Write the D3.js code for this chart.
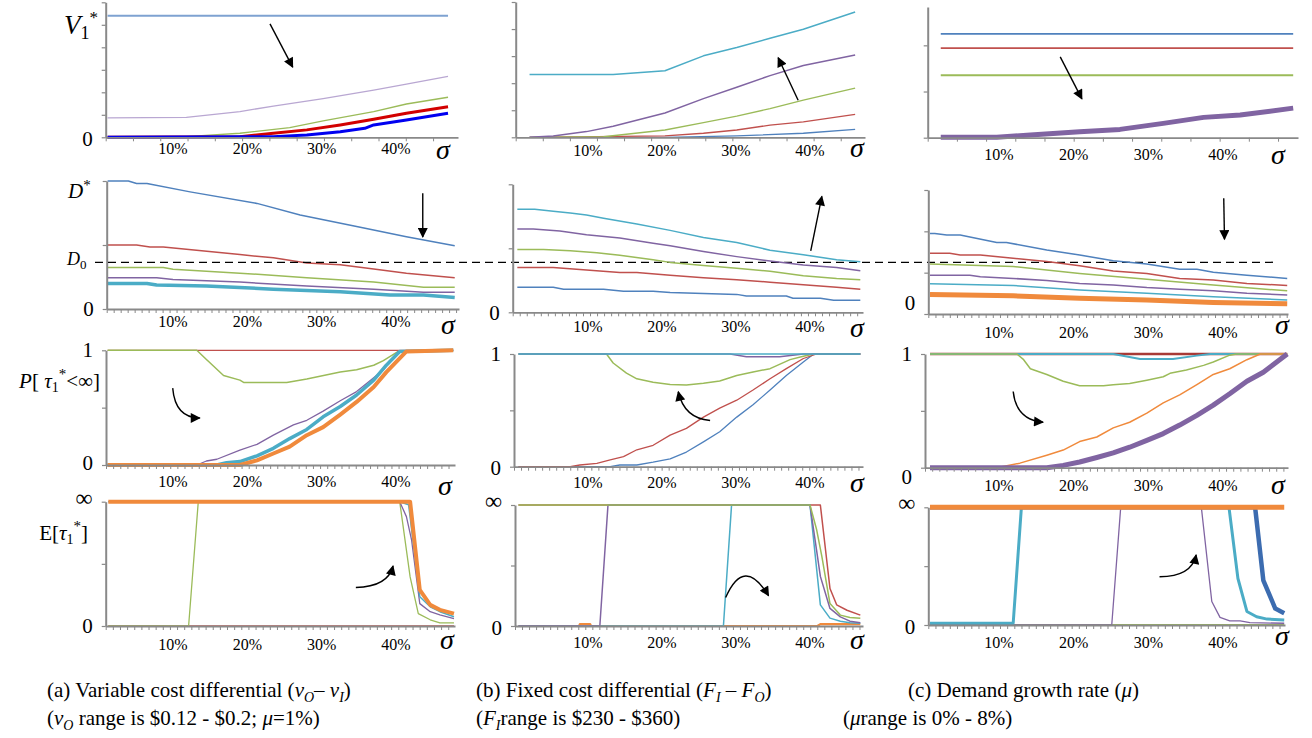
<!DOCTYPE html>
<html><head><meta charset="utf-8">
<script src="https://cdnjs.cloudflare.com/ajax/libs/d3/7.8.5/d3.min.js"></script>
<style>
body{margin:0;background:#fff}
svg{display:block}
text{font-family:"Liberation Serif","Times New Roman",serif;fill:#000}
</style>
</head><body>
<svg id="chart" width="1312" height="738"></svg>
<script>
// ---------- tick labels ----------
const xTickValues = [10, 20, 30, 40];
const xTickLabels = ["10%", "20%", "30%", "40%"];

// ---------- Row 1: V1* ----------
const a1LightBlue = [[1.2,5.4],[47,5.4]];
const a1Lavender = [[1.2,0.86],[11.8,0.89],[19,1.14],[23.5,1.39],[30.2,1.72],[37,2.1],[41.4,2.36],[47,2.71]];
const a1Green = [[1.2,0],[11.8,0.03],[19,0.18],[25.7,0.43],[30.2,0.73],[37,1.14],[41.4,1.48],[47,1.78]];
const a1Red = [[1.2,0],[19,0.03],[23.5,0.18],[28,0.33],[32.5,0.55],[37,0.8],[41.4,1.07],[47,1.36]];
const a1DeepBlue = [[1.2,0],[23.5,0.03],[28,0.1],[32.5,0.25],[35.8,0.4],[37,0.55],[41.4,0.77],[47,1.07]];

const b1Cyan = [[2.1,2.32],[13.4,2.32],[20.4,2.46],[25.6,3.01],[30.1,3.32],[34.6,3.66],[39.1,3.99],[46.1,4.63]];
const b1Purple = [[2.1,0],[5.3,0.05],[9.8,0.21],[13.4,0.41],[20.4,0.9],[25.6,1.43],[30.1,1.85],[34.6,2.28],[39.1,2.65],[46.1,3.04]];
const b1Green = [[2.1,0],[12.1,0.02],[20.4,0.27],[25.6,0.54],[30.1,0.78],[34.6,1.06],[39.1,1.37],[46.1,1.82]];
const b1Red = [[2.1,0],[20.4,0.05],[25.6,0.15],[30.1,0.27],[34.6,0.45],[39.1,0.57],[46.1,0.85]];
const b1Blue = [[2.1,0],[20.4,0],[30.1,0.05],[39.1,0.15],[46.1,0.29]];

const c1Blue = [[2.2,2.25],[49.4,2.25]];
const c1Red = [[2.2,1.94],[49.4,1.94]];
const c1Green = [[2.2,1.35],[49.4,1.35]];
const c1Purple = [[2.2,0.01],[9.7,0.01],[14.2,0.06],[20.8,0.13],[26.2,0.18],[32,0.31],[37.4,0.44],[42.3,0.49],[49.4,0.64]];

// ---------- Row 2: D* ----------
const D0 = 0.73;
const a2Blue = [[1.2,2],[4,2],[5.1,1.96],[6.5,1.96],[12.3,1.83],[21.3,1.65],[27.1,1.47],[34.7,1.29],[41.4,1.13],[47.9,0.99]];
const a2Red = [[1.2,1],[5.1,1],[6.9,0.97],[8.7,0.97],[19,0.85],[23.5,0.8],[28,0.72],[32.5,0.69],[37,0.625],[41.4,0.56],[47.9,0.49]];
const a2Green = [[1.2,0.65],[8.7,0.65],[10,0.62],[19,0.56],[28,0.49],[37,0.42],[43.7,0.34],[47.9,0.34]];
const a2Purple = [[1.2,0.49],[7.8,0.49],[10,0.46],[19,0.42],[28,0.36],[37,0.31],[43.7,0.26],[47.9,0.26]];
const a2Cyan = [[1.2,0.4],[6.5,0.4],[7.8,0.375],[14.5,0.36],[23.5,0.31],[32.5,0.27],[39.2,0.22],[43.7,0.22],[47.9,0.18]];

const b2Cyan = [[0.45,1.61],[2.8,1.61],[5.3,1.58],[7.6,1.55],[9.8,1.52],[12.1,1.47],[16.6,1.38],[21.1,1.28],[25.6,1.17],[30.1,1.09],[34.6,0.97],[39.1,0.9],[43.6,0.82],[46.8,0.79]];
const b2Purple = [[0.45,1.3],[2.6,1.3],[6.2,1.27],[9.8,1.21],[14.3,1.16],[18.8,1.08],[21.1,1.04],[25.6,0.95],[30.1,0.87],[34.6,0.8],[39.1,0.74],[43.6,0.7],[46.8,0.65]];
const b2Green = [[0.45,0.98],[4,0.98],[7.6,0.96],[11.2,0.93],[14.3,0.89],[18.8,0.82],[21.1,0.78],[25.6,0.73],[30.1,0.69],[34.6,0.64],[39.1,0.57],[43.6,0.53],[46.8,0.51]];
const b2Red = [[0.45,0.7],[5.3,0.7],[8.9,0.67],[14.3,0.62],[16.6,0.62],[21.1,0.58],[25.6,0.54],[30.1,0.51],[34.6,0.47],[39.1,0.43],[43.6,0.39],[46.8,0.36]];
const b2Blue = [[0.45,0.39],[5.3,0.39],[6.7,0.36],[12.1,0.36],[14.8,0.33],[18.8,0.33],[21.1,0.31],[30.1,0.28],[31.4,0.255],[36.8,0.255],[37.7,0.22],[41.4,0.22],[43.2,0.19],[46.8,0.19]];

const c2Blue = [[0.76,1.95],[1.4,1.95],[3,1.91],[4.8,1.91],[9.7,1.73],[11,1.73],[16.4,1.55],[20.8,1.43],[25.3,1.29],[29.8,1.21],[34.2,1.08],[36.5,1.08],[38.7,1.01],[43.2,0.94],[48.6,0.86]];
const c2Red = [[0.76,1.47],[3.4,1.47],[4.8,1.43],[7.5,1.43],[11.9,1.35],[16.4,1.27],[20.8,1.17],[25.3,1.04],[29.8,0.98],[34.2,0.86],[38.7,0.82],[43.2,0.74],[48.6,0.69]];
const c2Green = [[0.76,1.21],[11.9,1.15],[20.8,0.98],[29.8,0.84],[38.7,0.7],[48.6,0.56]];
const c2Purple = [[0.76,0.94],[6.1,0.94],[7.5,0.9],[11.9,0.86],[16.4,0.81],[20.8,0.74],[25.3,0.7],[29.8,0.64],[34.2,0.6],[38.7,0.56],[43.2,0.5],[48.6,0.46]];
const c2Cyan = [[0.76,0.73],[11.9,0.69],[20.8,0.58],[29.8,0.5],[38.7,0.42],[48.6,0.34]];
const c2Orange = [[0.76,0.47],[11.9,0.44],[20.8,0.38],[29.8,0.34],[38.7,0.28],[48.6,0.25]];

// ---------- Row 3: P[tau1* < inf] ----------
const a3Red = [[1.2,1],[47.7,1]];
const a3Green = [[1.2,1],[13.2,1],[14.5,0.92],[16.8,0.78],[19,0.74],[19.5,0.72],[25.3,0.72],[28,0.75],[32.5,0.81],[34.7,0.83],[37,0.87],[38.3,0.91],[40.3,0.99],[47.7,1]];
const a3Purple = [[1.2,0],[13.2,0],[14.5,0.035],[15.9,0.05],[19,0.13],[21.3,0.18],[23.5,0.26],[26.2,0.35],[28,0.39],[30.2,0.47],[32.5,0.56],[34.7,0.64],[37,0.76],[38.3,0.83],[40.3,0.99],[47.7,1]];
const a3Cyan = [[1.2,0],[15.9,0],[17.2,0.02],[19,0.03],[21.3,0.08],[23.5,0.145],[25.7,0.23],[28,0.31],[30.2,0.42],[32.5,0.51],[34.7,0.61],[37,0.74],[38.7,0.87],[40.5,0.99],[47.7,1]];
const a3Orange = [[1.2,0],[19,0],[21.3,0.04],[23.5,0.1],[25.7,0.16],[28,0.26],[30.2,0.33],[32.5,0.44],[34.7,0.55],[37,0.68],[38.7,0.81],[41.4,0.99],[47.7,1]];

const b3Blue = [[0.6,0],[13,0],[14.3,0.015],[16.6,0.015],[18.8,0.04],[21.1,0.07],[23.3,0.13],[25.6,0.22],[27.8,0.31],[30.1,0.44],[32.3,0.55],[34.6,0.68],[36.8,0.81],[39.1,0.93],[40.5,1],[46.8,1]];
const b3Red = [[0.6,0],[7.6,0],[8.9,0.015],[11.2,0.03],[13,0.06],[14.8,0.09],[16.6,0.15],[18.8,0.19],[21.1,0.28],[23.3,0.34],[25.6,0.44],[27.8,0.52],[30.1,0.59],[32.3,0.68],[34.6,0.78],[36.8,0.87],[39.1,0.96],[40.9,1],[46.8,1]];
const b3Green = [[0.6,1],[12.5,1],[13.4,0.92],[15.2,0.83],[16.6,0.78],[18.8,0.75],[21.1,0.73],[23.3,0.725],[25.6,0.74],[27.8,0.76],[30.1,0.81],[32.3,0.84],[34.6,0.87],[37.3,0.95],[39.1,0.98],[40.5,1],[46.8,1]];
const b3Purple = [[0.6,1],[29.2,1],[31.4,0.976],[35.9,0.976],[39.1,1],[46.8,1]];
const b3Cyan = [[0.6,1],[46.8,1]];

const c3Red = [[0.76,1],[48.6,1]];
const c3Cyan = [[0.76,1],[25.3,1],[28.9,0.956],[33.3,0.956],[36.5,0.985],[38.3,1],[48.6,1]];
const c3Green = [[0.76,1],[12.4,1],[13.3,0.95],[14.2,0.87],[16.4,0.82],[18.6,0.76],[20.8,0.72],[24,0.72],[25.3,0.73],[27.5,0.74],[29.8,0.77],[32,0.8],[32.9,0.83],[35.1,0.86],[37.4,0.9],[38.7,0.93],[40.9,0.99],[41.8,1],[48.6,1]];
const c3Orange = [[0.76,0],[9.7,0],[12.8,0.04],[16.4,0.11],[18.6,0.155],[20.8,0.23],[23.1,0.27],[25.3,0.35],[27.5,0.4],[29.8,0.48],[32,0.57],[34.2,0.64],[36.5,0.73],[38.7,0.82],[40.9,0.87],[43.2,0.95],[45,1],[48.6,1]];
const c3Purple = [[0.76,0],[16.4,0],[18.6,0.02],[20.8,0.05],[23.1,0.09],[25.3,0.13],[27.5,0.18],[29.8,0.24],[32,0.3],[34.2,0.375],[36.5,0.46],[38.7,0.55],[40.9,0.65],[43.2,0.76],[45.4,0.84],[48.6,1]];

// ---------- Row 4: E[tau1*]  (2 = infinity) ----------
const a4Red = [[1.3,0],[47.8,0]];
const a4Green = [[1.3,0],[12.1,0],[13.4,2],[40.5,2],[41.9,0.79],[43,0.2],[44.6,0.1],[45.9,0.05],[47.8,0.05]];
const a4Purple = [[1.3,2],[40.5,2],[41.4,1.76],[42.1,1.38],[43.2,0.36],[44.6,0.23],[45.9,0.18],[47.8,0.12]];
const a4Cyan = [[1.3,2],[40.5,2],[41.7,1.95],[43.2,0.47],[44.6,0.31],[45.9,0.23],[47.8,0.15]];
const a4Orange = [[1.3,2],[41.9,2],[43.2,0.58],[44.6,0.34],[45.9,0.26],[47.8,0.2]];

const b4Orange = [[0.6,0],[8.8,0],[8.9,0.03],[10.3,0.03],[10.4,0],[41,0],[41.4,0.03],[46.8,0.03]];
const b4Red = [[0.6,2],[41.4,2],[42.7,0.62],[43.6,0.35],[45,0.26],[46.8,0.18]];
const b4Cyan = [[0.6,0],[28.3,0],[29.4,2],[40,2],[41.4,0.35],[42.7,0.13],[44.1,0.08],[45.4,0.055],[46.8,0.044]];
const b4Purple = [[0.6,0],[11.6,0],[12.7,2],[40,2],[41.4,0.82],[42.7,0.29],[44.1,0.15],[45.4,0.08],[46.8,0.055]];
const b4Green = [[0.6,2],[40,2],[40.9,1.59],[41.6,1.15],[42.7,0.37],[44.1,0.18],[45.4,0.14],[46.8,0.13]];

const c4Green = [[0.76,0],[48.2,0]];
const c4Purple = [[0.76,0],[25.1,0],[26.3,2],[37.1,2],[38.5,0.4],[39.6,0.13],[40.9,0.07],[42.3,0.07],[43.6,0.04],[48.2,0.03]];
const c4Cyan = [[0.76,0.03],[11.9,0.03],[13,2],[40.8,2],[42,0.79],[43.2,0.23],[44.5,0.14],[45.9,0.1],[48.2,0.085]];
const c4Blue = [[0.76,2],[44.3,2],[45.4,0.76],[47,0.28],[48.2,0.2]];
const c4Orange = [[0.76,2],[48.2,2]];

// ---------- annotation arrows (data coords) ----------
const a1Arrow = [[23.05,5.04],[26.1,3.12]];
const b1Arrow = [[38.4,1.37],[35.7,2.94]];
const c1Arrow = [[18.2,1.75],[21.1,0.84]];
const a2Arrow = [[43.6,1.81],[43.6,1.125]];
const b2Arrow = [[40.1,0.96],[41.6,1.81]];
const c2Arrow = [[40.1,2.8],[40.2,1.81]];
const a3Arrow = [[9.96,0.67],[10.3,0.41],[13.6,0.41]];
const b3Arrow = [[26.5,0.41],[23.0,0.43],[22.2,0.665]];
const c3Arrow = [[11.9,0.67],[12.3,0.42],[15.9,0.40]];
const a4Arrow = [[34.6,0.62],[38.9,0.63],[39.6,0.965]];
const b4Arrow = [[28.6,0.47],[31.1,1.17],[34.4,0.5]];
const c4Arrow = [[31.5,0.82],[35.8,0.82],[36.4,1.19]];

// ---------- y tick labels ----------
const yLabA1 = [[0,"0"]];
const yLabA2 = [[0,"0"]];
const yLabB2 = [[0,"0"]];
const yLabC2 = [[0,"0"]];
const yLabP = [[0,"0"],[1,"1"]];
const yLabE = [[0,"0"],[2,"∞"]];

// ---------- colours ----------
const COL = {blue:'#4F81BD', red:'#C0504D', green:'#9BBB59', purple:'#8064A2', cyan:'#4BACC6', orange:'#F08A3C',
  lightBlue:'#7EA2D1', lavender:'#B9A7D2', deepRed:'#D20000', deepBlue:'#0000F0', darkRed:'#A83A36', darkBlue:'#3C6CB0'};

// ---------- layout ----------
const colScale = {
  a: d3.scaleLinear().domain([10,40]).range([173,396]),
  b: d3.scaleLinear().domain([10,40]).range([588,810]),
  c: d3.scaleLinear().domain([10,40]).range([999,1223])
};

const S = (data,color,w) => ({data,color,w});
const panels = [
  {col:'a', axisX:105.7, xEnd:458, yBot:137.3, yTop:2.3, yMax:6, yTicks:[0,1,2,3,4,5,6], step:3.67, labBase:154, sig:[443,152], yLab:yLabA1, zeroDy:2,
   series:[S(a1LightBlue,COL.lightBlue,2),S(a1Lavender,COL.lavender,1.3),S(a1Green,COL.green,1.3),S(a1Red,COL.deepRed,3),S(a1DeepBlue,COL.deepBlue,3)], arrow:a1Arrow},
  {col:'b', axisX:515.7, xEnd:865, yBot:137.3, yTop:2, yMax:5, yTicks:[0,1,2,3,4,5], step:3.66, labBase:156, sig:[857,150], yLab:[], zeroDy:0,
   series:[S(b1Blue,COL.blue,1.3),S(b1Red,COL.red,1.3),S(b1Green,COL.green,1.3),S(b1Purple,COL.purple,1.5),S(b1Cyan,COL.cyan,1.5)], arrow:b1Arrow},
  {col:'c', axisX:927.7, xEnd:1298, yBot:137.7, yTop:7, yMax:2.83, yTicks:[0,1,2], step:3.91, labBase:160, sig:[1278,157], yLab:[], zeroDy:0,
   series:[S(c1Blue,COL.blue,1.8),S(c1Red,COL.red,1.8),S(c1Green,COL.green,2),S(c1Purple,COL.purple,5)], arrow:c1Arrow},

  {col:'a', axisX:106.7, xEnd:459, yBot:309, yTop:181, yMax:2, yTicks:[0,1,2], step:0.94, labBase:327, sig:[448,327], yLab:yLabA2, zeroDy:0,
   series:[S(a2Blue,COL.blue,1.5),S(a2Red,COL.red,1.5),S(a2Green,COL.green,1.5),S(a2Purple,COL.purple,1.5),S(a2Cyan,COL.cyan,3.5)], arrow:a2Arrow},
  {col:'b', axisX:512.7, xEnd:863, yBot:312.3, yTop:184.3, yMax:2, yTicks:[0,1,2], step:0.95, labBase:332, sig:[857,330], yLab:yLabB2, zeroDy:1,
   series:[S(b2Blue,COL.blue,1.5),S(b2Red,COL.red,1.5),S(b2Green,COL.green,1.5),S(b2Purple,COL.purple,1.5),S(b2Cyan,COL.cyan,1.5)], arrow:b2Arrow},
  {col:'c', axisX:928.3, xEnd:1288, yBot:314, yTop:190, yMax:3, yTicks:[0,1,2,3], step:0.96, labBase:338, sig:[1282,327], yLab:yLabC2, zeroDy:-11,
   series:[S(c2Blue,COL.blue,1.5),S(c2Red,COL.red,1.5),S(c2Green,COL.green,1.5),S(c2Purple,COL.purple,1.5),S(c2Cyan,COL.cyan,1.5),S(c2Orange,COL.orange,5)], arrow:c2Arrow},

  {col:'a', axisX:106, xEnd:455, yBot:465, yTop:350.3, yMax:1, yTicks:[0,0.5,1], step:0.96, labBase:487, sig:[445,488], yLab:yLabP, zeroDy:-2,
   series:[S(a3Red,COL.red,1.3),S(a3Green,COL.green,1.5),S(a3Purple,COL.purple,1.3),S(a3Cyan,COL.cyan,3.5),S(a3Orange,COL.orange,4)], arrow:a3Arrow},
  {col:'b', axisX:514, xEnd:863, yBot:466.7, yTop:354, yMax:1, yTicks:[0,0.5,1], step:0.95, labBase:488, sig:[857,485], yLab:yLabP, zeroDy:1,
   series:[S(b3Blue,COL.blue,1.3),S(b3Red,COL.red,1.3),S(b3Green,COL.green,1.5),S(b3Purple,COL.purple,1.5),S(b3Cyan,COL.cyan,1.5)], arrow:b3Arrow},
  {col:'c', axisX:925, xEnd:1288, yBot:467.7, yTop:354, yMax:1, yTicks:[0,0.5,1], step:0.96, labBase:491, sig:[1278,487], yLab:yLabP, zeroDy:9,
   series:[S(c3Red,COL.darkRed,2.5),S(c3Cyan,COL.cyan,1.8),S(c3Green,COL.green,1.5),S(c3Orange,COL.orange,1.5),S(c3Purple,COL.purple,5)], arrow:c3Arrow},

  {col:'a', axisX:105.7, xEnd:455, yBot:626, yTop:501.7, yMax:2, yTicks:[0,1,2], step:0.96, labBase:650, sig:[447,642], yLab:yLabE, zeroDy:0,
   series:[S(a4Red,COL.red,1.5),S(a4Green,COL.green,1.3),S(a4Purple,COL.purple,1.3),S(a4Cyan,COL.cyan,1.5),S(a4Orange,COL.orange,4)], arrow:a4Arrow},
  {col:'b', axisX:515, xEnd:863, yBot:626, yTop:505, yMax:2, yTicks:[0,1,2], step:0.95, labBase:648, sig:[857,642], yLab:yLabE, zeroDy:2,
   series:[S(b4Orange,COL.orange,2.2),S(b4Red,COL.red,1.5),S(b4Cyan,COL.cyan,1.5),S(b4Purple,COL.purple,1.5),S(b4Green,COL.green,1.5)], arrow:b4Arrow},
  {col:'c', axisX:928.3, xEnd:1285, yBot:625, yTop:507.3, yMax:2, yTicks:[0,1,2], step:0.96, labBase:648, sig:[1282,638], yLab:yLabE, zeroDy:2,
   series:[S(c4Green,COL.green,2),S(c4Purple,COL.purple,1.3),S(c4Cyan,COL.cyan,3),S(c4Blue,COL.darkBlue,4.5),S(c4Orange,COL.orange,5)], arrow:c4Arrow}
];

const svg = d3.select('#chart').attr('font-family','Liberation Serif, Times New Roman, serif');
svg.append('defs').append('marker')
  .attr('id','ah').attr('viewBox','0 0 10 10').attr('refX',9).attr('refY',5)
  .attr('markerWidth',12).attr('markerHeight',10).attr('markerUnits','userSpaceOnUse').attr('orient','auto')
  .append('path').attr('d','M0,0 L10,5 L0,10 Z').attr('fill','#000');

const AX = '#898989';

panels.forEach((p, i) => {
  const cx = colScale[p.col];
  const x = d3.scaleLinear().domain([cx.invert(p.axisX), cx.invert(p.xEnd)]).range([p.axisX, p.xEnd]);
  const y = d3.scaleLinear().domain([0, p.yMax]).range([p.yBot, p.yTop]);
  const g = svg.append('g');

  // series lines
  const line = d3.line().x(d => x(d[0])).y(d => y(d[1]));
  p.series.forEach(s => {
    g.append('path').attr('d', line(s.data)).attr('fill','none')
      .attr('stroke', s.color).attr('stroke-width', s.w).attr('stroke-linejoin','round');
  });

  // x axis
  const xt = d3.range(x.domain()[0], x.domain()[1] + 0.001, p.step);
  const gx = g.append('g').attr('transform', `translate(0,${p.yBot})`)
    .call(d3.axisBottom(x).tickValues(xt).tickSize(4).tickSizeOuter(0).tickFormat(''));
  gx.select('.domain').attr('stroke', AX).attr('stroke-width', 1.8);
  gx.selectAll('.tick line').attr('stroke', AX).attr('stroke-width', 1);

  // y axis
  const gy = g.append('g').attr('transform', `translate(${p.axisX},0)`)
    .call(d3.axisLeft(y).tickValues(p.yTicks).tickSize(4).tickSizeOuter(0).tickFormat(''));
  gy.select('.domain').attr('stroke', AX).attr('stroke-width', 2);
  gy.selectAll('.tick line').attr('stroke', AX).attr('stroke-width', 1.2);

  // x tick labels
  g.selectAll('text.xl').data(xTickValues).enter().append('text')
    .attr('x', d => x(d)).attr('y', p.labBase).attr('text-anchor','middle')
    .attr('font-size', 16).text((d, k) => xTickLabels[k]);

  // sigma
  g.append('text').attr('x', p.sig[0]).attr('y', p.sig[1] + 7).attr('text-anchor','middle')
    .attr('font-size', 28).attr('font-style','italic').text('σ');

  // y tick labels
  p.yLab.forEach(([v, t]) => {
    const isInf = t === '∞';
    g.append('text').attr('x', p.axisX - 13).attr('text-anchor','end')
      .attr('y', y(v) + (isInf ? 4 : 7) + (v === 0 ? p.zeroDy : 0))
      .attr('font-size', isInf ? 24 : 21).text(t);
  });

  // arrow
  const a = p.arrow;
  let d;
  if (a.length === 2) d = `M${x(a[0][0])},${y(a[0][1])}L${x(a[1][0])},${y(a[1][1])}`;
  else d = `M${x(a[0][0])},${y(a[0][1])}Q${x(a[1][0])},${y(a[1][1])} ${x(a[2][0])},${y(a[2][1])}`;
  g.append('path').attr('d', d).attr('fill','none').attr('stroke','#000').attr('stroke-width',1.4)
    .attr('marker-end','url(#ah)');

  // D0 dashed reference across the row
  if (i === 3) {
    svg.append('line').attr('x1', 95).attr('x2', 1278).attr('y1', y(D0)).attr('y2', y(D0))
      .attr('stroke','#000').attr('stroke-width',1.3).attr('stroke-dasharray','8,5');
  }
});

// ---------- y axis titles ----------
const t1 = svg.append('text').attr('x', 64).attr('y', 34).attr('font-size', 27);
t1.append('tspan').attr('font-style','italic').text('V');
t1.append('tspan').attr('font-size', 18).attr('dy', 5).text('1');
t1.append('tspan').attr('font-size', 17).attr('dy', -16).text('*');

const t2 = svg.append('text').attr('x', 68).attr('y', 198).attr('font-size', 21);
t2.append('tspan').attr('font-style','italic').text('D');
t2.append('tspan').attr('font-size', 15).attr('dy', -8).text('*');

const t3 = svg.append('text').attr('x', 67).attr('y', 265).attr('font-size', 18);
t3.append('tspan').attr('font-style','italic').text('D');
t3.append('tspan').attr('font-size', 13).attr('dy', 4).text('0');

const t4 = svg.append('text').attr('x', 100).attr('y', 388).attr('font-size', 21).attr('text-anchor','end');
t4.append('tspan').attr('font-style','italic').text('P');
t4.append('tspan').text('[ ');
t4.append('tspan').attr('font-style','italic').text('τ');
t4.append('tspan').attr('font-size', 14).attr('dy', 4).text('1');
t4.append('tspan').attr('font-size', 15).attr('dy', -13).text('*');
t4.append('tspan').attr('dy', 9).text('<∞]');

const t5 = svg.append('text').attr('x', 88).attr('y', 540).attr('font-size', 21).attr('text-anchor','end');
t5.append('tspan').text('E[');
t5.append('tspan').attr('font-style','italic').text('τ');
t5.append('tspan').attr('font-size', 14).attr('dy', 4).text('1');
t5.append('tspan').attr('font-size', 15).attr('dy', -13).text('*');
t5.append('tspan').attr('dy', 9).text(']');

// ---------- captions ----------
function caption(xp, yp, parts) {
  const t = svg.append('text').attr('x', xp).attr('y', yp).attr('font-size', 21);
  parts.forEach(([s, st]) => {
    const ts = t.append('tspan').text(s);
    if (st === 'i') ts.attr('font-style','italic');
    if (st === 'sub') ts.attr('font-size', 14).attr('dy', 5).attr('font-style','italic');
    if (st === 'up') ts.attr('dy', -5);
  });
}
caption(47, 697, [['(a) Variable cost differential ('],['v','i'],['O','sub'],['– ','up'],['v','i'],['I','sub'],[')','up']]);
caption(47, 725, [['('],['v','i'],['O','sub'],[' range is $0.12 - $0.2; ','up'],['μ','i'],['=1%)']]);
caption(476, 697, [['(b) Fixed cost differential ('],['F','i'],['I','sub'],[' – ','up'],['F','i'],['O','sub'],[')','up']]);
caption(476, 725, [['('],['F','i'],['I','sub'],['range is $230 - $360)','up']]);
caption(908, 697, [['(c) Demand growth rate ('],['μ','i'],[')']]);
caption(843, 725, [['('],['μ','i'],['range is 0% - 8%)']]);
</script>
</body></html>
